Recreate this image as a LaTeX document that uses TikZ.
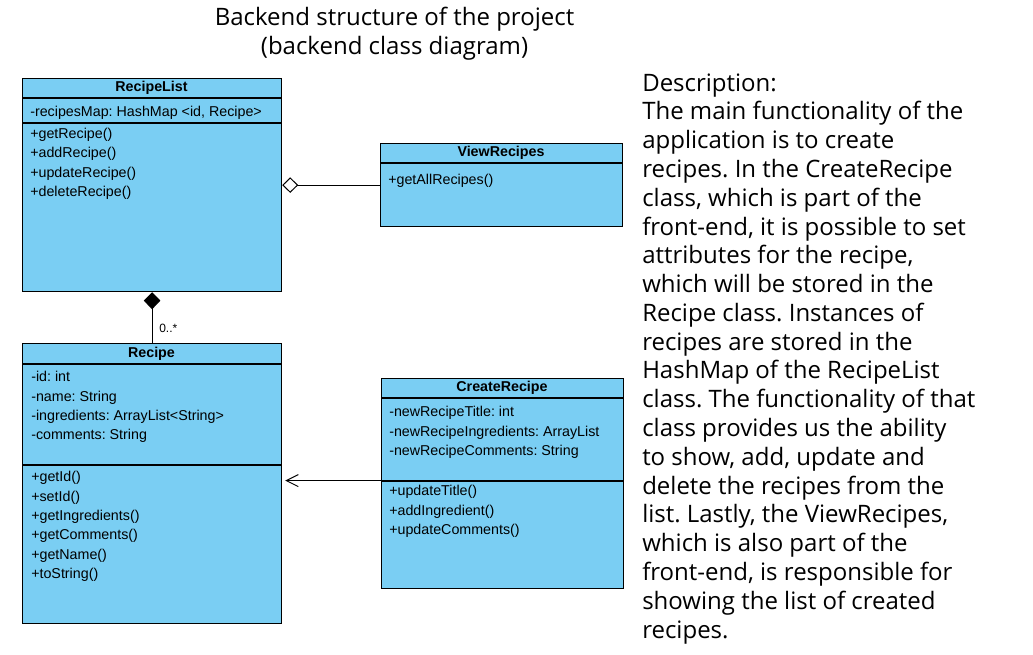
\documentclass[tikz,border=0pt]{standalone}
\usepackage{fontspec}
\setmainfont{Open Sans}
\newfontfamily\umlfont{Liberation Sans}
\usepackage{xcolor}
\usetikzlibrary{arrows.meta,positioning}
\definecolor{classblue}{RGB}{122,206,243}
\frenchspacing

\begin{document}
\begin{tikzpicture}[
    x=0.75pt,y=-0.75pt,
    classbox/.style={rectangle,draw,fill=classblue,line width=0.9pt,anchor=north west,inner sep=0pt},
    classname/.style={anchor=base,inner sep=0pt,font=\umlfont\fontsize{10.7pt}{12pt}\selectfont\bfseries},
    members/.style={anchor=base west,align=left,inner sep=0pt,font=\umlfont\fontsize{10.7pt}{14.55pt}\selectfont},
    divider/.style={line width=0.8pt},
    bigtext/.style={inner sep=0pt,font=\fontsize{18pt}{21.6pt}\selectfont},
    aggr/.style={-{Diamond[fill=white,length=12pt,width=11.7pt]},line width=0.75pt},
    comp/.style={-{Diamond[length=12.75pt,width=12.5pt]},line width=0.75pt},
    assoc/.style={-{Straight Barb[length=9pt,width=9pt]},line width=0.75pt,shorten >=2.25pt}
]
\useasboundingbox (0,0) rectangle (1033,655);

% title (multi-line nodes: base = last line)
\node[bigtext,anchor=base,align=center] (title) at (394.5,54.6) {Backend structure of the project\\(backend class diagram)};

% classes
\node[classbox,minimum width=194.25pt,minimum height=159.75pt] (recipelist) at (22,78) {};
\node[classbox,minimum width=181.5pt,minimum height=62.25pt] (viewrecipes) at (380,143) {};
\node[classbox,minimum width=194.25pt,minimum height=210pt] (recipe) at (22,343) {};
\node[classbox,minimum width=181.5pt,minimum height=157.5pt] (createrecipe) at (381,378) {};

\draw[divider] (recipelist.west |- 0,98) -- (recipelist.east |- 0,98);
\draw[divider] (recipelist.west |- 0,123) -- (recipelist.east |- 0,123);
\draw[divider] (viewrecipes.west |- 0,163) -- (viewrecipes.east |- 0,163);
\draw[divider] (recipe.west |- 0,364) -- (recipe.east |- 0,364);
\draw[divider] (recipe.west |- 0,465) -- (recipe.east |- 0,465);
\draw[divider] (createrecipe.west |- 0,398) -- (createrecipe.east |- 0,398);
\draw[divider] (createrecipe.west |- 0,481) -- (createrecipe.east |- 0,481);

\node[classname] (recipelistname) at (151.5,92) {RecipeList};
\node[members] (recipelistattr) at (30,116.7) {-recipesMap: HashMap <id, Recipe>};
\node[members] (recipelistops) at (30,196.7) {+getRecipe()\\+addRecipe()\\+updateRecipe()\\+deleteRecipe()};

\node[classname] (viewrecipesname) at (501,157) {ViewRecipes};
\node[members] (viewrecipesops) at (388,184.3) {+getAllRecipes()};

\node[classname] (recipename) at (151.5,358) {Recipe};
\node[members] (recipeattr) at (31,439.9) {-id: int\\-name: String\\-ingredients: ArrayList<String>\\-comments: String};
\node[members] (recipeops) at (31,578.7) {+getId()\\+setId()\\+getIngredients()\\+getComments()\\+getName()\\+toString()};

\node[classname] (createrecipename) at (502,392) {CreateRecipe};
\node[members] (createrecipeattr) at (389,455.5) {-newRecipeTitle: int\\-newRecipeIngredients: ArrayList\\-newRecipeComments: String};
\node[members] (createrecipeops) at (389,534.8) {+updateTitle()\\+addIngredient()\\+updateComments()};

% relations
\draw[aggr] (viewrecipes.west) -- (viewrecipes.west -| recipelist.east);
\draw[comp] (recipe.north) -- (recipelist.south);
\node[anchor=base west,inner sep=0pt,font=\umlfont\fontsize{9pt}{10pt}\selectfont] (mult) at (159,333) {0..*};
\draw[assoc] ([yshift=2.25pt]createrecipe.west) -- ([yshift=2.25pt]createrecipe.west -| recipe.east);

% description
\node[bigtext,anchor=base west,align=left] (desc) at (642,638.2) {Description:\\The main functionality of the\\application is to create\\recipes. In the CreateRecipe\\class, which is part of the\\front-end, it is possible to set\\attributes for the recipe,\\which will be stored in the\\Recipe class. Instances of\\recipes are stored in the\\HashMap of the RecipeList\\class. The functionality of that\\class provides us the ability\\to show, add, update and\\delete the recipes from the\\list. Lastly, the ViewRecipes,\\which is also part of the\\front-end, is responsible for\\showing the list of created\\recipes.};
\end{tikzpicture}
\end{document}
